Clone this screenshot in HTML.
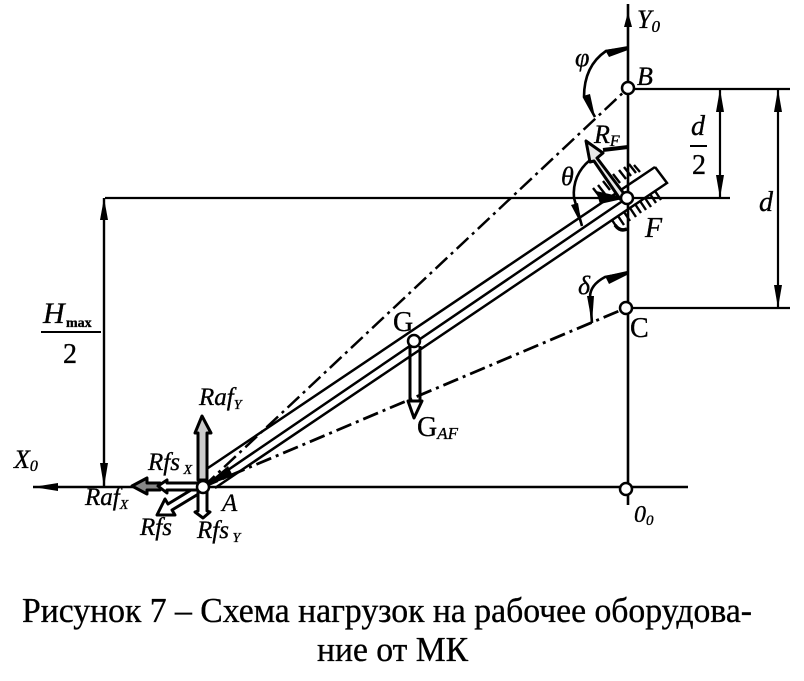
<!DOCTYPE html>
<html><head><meta charset="utf-8"><style>
html,body{margin:0;padding:0;background:#fff}
svg{display:block}
text{fill:#000}
.i{font-family:"Liberation Serif",serif;font-style:italic;stroke:#000;stroke-width:.35}
.r{font-family:"Liberation Serif",serif;stroke:#000;stroke-width:.35}
</style></head><body>
<svg width="804" height="681" viewBox="0 0 804 681" xmlns="http://www.w3.org/2000/svg">
<rect width="804" height="681" fill="#fff"/>
<g stroke="#000" fill="none" stroke-width="2.2">
<!-- axes -->
<path d="M628 4V505" stroke-width="2.6"/>
<path d="M33 487H688" stroke-width="2.4"/>
<path d="M105 198H730"/>
<path d="M628 89H790"/>
<path d="M626 308H790"/>
<path d="M104 198V487" stroke-width="2.4"/>
<path d="M720 89V198"/>
<path d="M778 89V308"/>
<!-- boom -->
<path d="M655 167L667 183L215 488M655 167L205 470M203 487L627 198" stroke-width="2.5"/>
<!-- dash-dot -->
<path d="M203 487L628 88" stroke-width="2.5" stroke-dasharray="16 5 3 5"/>
<path d="M203 487L626 308" stroke-width="2.8" stroke-dasharray="16 5 3 5"/>
<!-- angle arcs -->
<path d="M628 48L606 51Q584 66 584 97L595 117" stroke-width="2.6"/>
<path d="M590 160Q572 175 574 198L582 226" stroke-width="2.6"/>
<path d="M627 273L605 277Q590 285 590 297L592 323" stroke-width="2.6"/>
<path d="M628 147L603 150" stroke-width="4"/>
<!-- hatch -->
<path d="M593 188L600 197M598 185L605 194M603 181L610 190M608 178L615 187M613 174L620 183M619 170L626 179M624 167L631 176M629 164L636 173M634 165L640 172" stroke-width="2.4"/>
<path d="M612 220L618 229M618 216L624 225M624 212L630 221M630 208L636 217M635 204L641 213M640 201L646 210M645 198L651 207M650 194L656 203M655 191L661 200" stroke-width="2.4"/>
<path d="M615 225Q620 232 627 229" stroke-width="3.5"/>
<!-- G_AF shaft -->
<path d="M410 346V402M420 346V402" stroke-width="3"/>
</g>
<!-- arrowheads on lines -->
<g fill="#000">
<path d="M628 12L632 27H624Z"/>
<path d="M720 89L724 112H716Z"/>
<path d="M720 198L724 175H716Z"/>
<path d="M778 89L782 112H774Z"/>
<path d="M778 308L782 285H774Z"/>
<path d="M104 198L108 220H100Z"/>
<path d="M104 487L108 463H100Z"/>
<path d="M33 487L58 483V491Z"/>
<path d="M605 50L628 46V50L609 57Z"/>
<path d="M595 117L583 96L590 94Z"/>
<path d="M582 226L571 205L578 203Z"/>
<path d="M592 323L587 296L594 296Z"/>
<path d="M605 276L627 271V275L609 284Z"/>
<path d="M627 198L596 191L600 204Z"/>
<path d="M203 487L228 466L233 476Z"/>
</g>
<!-- force arrows -->
<g stroke="#000" stroke-width="3" fill="#fff" stroke-linejoin="round">
<path d="M198 480V433H195L202 416L211 433H207V480Z" fill="#ccc"/>
<path d="M625 195L597 158L603 153L586 141L590 162L594 161L620 199Z" fill="#e6e6e6"/>
<path d="M201 484L168 504L165 499L157 515L175 515L172 510L205 490Z"/>
<path d="M198 492V511L195 512L203 518L210 512L207 511V492Z"/>
<path d="M132 486L147 478V483L160 483V490L147 490V494Z" fill="#888"/>
<path d="M158 486L167 480V483H200V490H167V493Z"/>
<path d="M408 401L414 418L422 401Z"/>
</g>
<g stroke="#000" stroke-width="2.5" fill="#fff">
<circle cx="628" cy="88" r="6"/>
<circle cx="627" cy="198" r="6"/>
<circle cx="626" cy="308" r="6"/>
<circle cx="626" cy="489" r="6"/>
<circle cx="203" cy="487" r="6"/>
<circle cx="414" cy="341" r="6"/>
</g>
<!-- labels -->
<text class="i" x="637" y="28" font-size="26">Y<tspan font-size="17" dy="4">0</tspan></text>
<text class="i" x="575" y="66" font-size="26">φ</text>
<text class="i" x="637" y="85" font-size="26">B</text>
<text class="i" x="594" y="143" font-size="26">R<tspan font-size="16" dy="3">F</tspan></text>
<text class="i" x="561" y="185" font-size="26">θ</text>
<text class="i" x="645" y="237" font-size="28">F</text>
<text class="i" x="759" y="211" font-size="28">d</text>
<text class="i" x="578" y="294" font-size="26">δ</text>
<text class="r" x="630" y="337" font-size="28">C</text>
<text class="r" x="393" y="331" font-size="28">G</text>
<text class="r" x="417" y="436" font-size="28">G<tspan class="i" font-size="17" dy="3">AF</tspan></text>
<text class="i" x="634" y="522" font-size="24">0<tspan font-size="15" dy="3">0</tspan></text>
<text class="i" x="691" y="135" font-size="28">d</text>
<text class="r" x="692" y="174" font-size="28">2</text>
<rect x="690" y="145" width="17" height="2"/>
<text class="i" x="43" y="323" font-size="30">H</text>
<text class="r" x="66" y="327" font-size="14" font-weight="bold">max</text>
<rect x="41" y="331" width="60" height="2"/>
<text class="r" x="63" y="363" font-size="28">2</text>
<text class="i" x="14" y="468" font-size="26">X<tspan font-size="16" dy="3">0</tspan></text>
<text class="i" x="199" y="405" font-size="25">Raf<tspan font-size="14" dy="4">Y</tspan></text>
<text class="i" x="148" y="470" font-size="25">Rfs<tspan font-size="14" dy="4"> X</tspan></text>
<text class="i" x="85" y="505" font-size="25">Raf<tspan font-size="14" dy="4">X</tspan></text>
<text class="i" x="140" y="535" font-size="25">Rfs</text>
<text class="i" x="197" y="538" font-size="25">Rfs<tspan font-size="14" dy="4"> Y</tspan></text>
<text class="i" x="222" y="511" font-size="25">A</text>
<text class="r" x="22" y="622" font-size="35" stroke-width=".8" textLength="730" lengthAdjust="spacingAndGlyphs">Рисунок 7 – Схема нагрузок на рабочее оборудова-</text>
<text class="r" x="317" y="661" font-size="35" stroke-width=".8" textLength="151" lengthAdjust="spacingAndGlyphs">ние от МК</text>
</svg>
</body></html>
